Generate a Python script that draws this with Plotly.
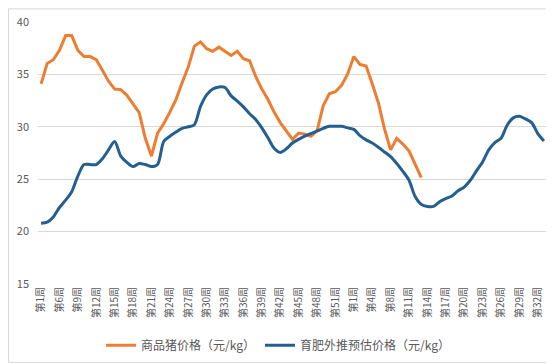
import plotly.graph_objects as go

# Category labels (weeks spanning two years)
weeks = (["第1周", "第4周", "第5周"] + [f"第{w}周" for w in range(6, 54)]
         + ["第1周", "第2周", "第3周", "第4周", "第5周", "第6周"]
         + [f"第{w}周" for w in range(8, 34)])

hog_price = [34.1, 36.05, 36.4, 37.3, 38.7, 38.7, 37.3, 36.7, 36.7, 36.4,
             35.4, 34.35, 33.6, 33.55, 33.0, 32.2, 31.35, 28.9, 27.2, 29.4,
             30.3, 31.4, 32.6, 34.2, 35.7, 37.7, 38.1, 37.45, 37.2, 37.6,
             37.2, 36.8, 37.2, 36.5, 36.3, 34.8, 33.6, 32.6, 31.4, 30.4,
             29.6, 28.8, 29.4, 29.3, 29.1, 29.6, 32.0, 33.15, 33.35, 33.95,
             35.05, 36.7, 35.95, 35.8, 34.1, 32.3, 29.8, 27.8, 28.9, 28.35,
             27.7, 26.45, 25.15]

forecast_price = [20.8, 20.9, 21.4, 22.3, 23.0, 23.8, 25.3, 26.4, 26.4, 26.4,
                  26.95, 27.8, 28.6, 27.2, 26.6, 26.2, 26.5, 26.4, 26.2, 26.4,
                  28.6, 29.1, 29.5, 29.85, 30.0, 30.2, 31.95, 33.05, 33.6, 33.8,
                  33.75, 32.95, 32.45, 31.9, 31.25, 30.7, 29.9, 28.95, 27.95, 27.55,
                  27.9, 28.45, 28.8, 29.1, 29.35, 29.6, 29.85, 30.05, 30.05, 30.05,
                  29.9, 29.75, 29.15, 28.75, 28.45, 28.05, 27.6, 27.15, 26.5, 25.75,
                  24.9, 23.35, 22.6, 22.4, 22.4, 22.85, 23.15, 23.4, 23.9, 24.25,
                  24.9, 25.8, 26.65, 27.8, 28.5, 28.9, 30.15, 30.85, 31.0, 30.75,
                  30.4, 29.35, 28.65]

y_ticks = [15, 20, 25, 30, 35, 40]

x_all = list(range(len(weeks)))
tick_idx = x_all[::3]
tick_txt = [weeks[i] for i in tick_idx]

font_family = "Noto Sans CJK SC, Noto Sans, sans-serif"
grey_text = "#595959"

fig = go.Figure()
fig.add_trace(go.Scatter(
    x=x_all[:len(hog_price)], y=hog_price, mode="lines",
    name="商品猪价格（元/kg）",
    line=dict(color="#ED7D31", width=3)))
fig.add_trace(go.Scatter(
    x=x_all, y=forecast_price, mode="lines",
    name="育肥外推预估价格（元/kg）",
    line=dict(color="#255E91", width=3, shape="spline", smoothing=0.8)))

W, H = 554, 364
ml, mr, mt, mb = 30, 15, 14, 81
pw, ph = W - ml - mr, H - mt - mb

def px_x(p):
    return (p - ml) / pw

def px_y(p):
    return (H - mb - p) / ph

fig.add_shape(type="rect", xref="paper", yref="paper",
              x0=px_x(0.5), x1=px_x(W - 0.5), y0=px_y(H - 0.5), y1=px_y(0.5),
              line=dict(color="#D9D9D9", width=1), fillcolor="rgba(0,0,0,0)",
              layer="below")

fig.update_layout(
    width=W, height=H,
    margin=dict(l=ml, r=mr, t=mt, b=mb, pad=0),
    paper_bgcolor="white", plot_bgcolor="white",
    font=dict(family=font_family, color=grey_text),
    showlegend=True,
    legend=dict(orientation="h", x=px_x(270), xanchor="center",
                y=px_y(346), yanchor="middle",
                font=dict(size=12, color=grey_text),
                itemwidth=30, tracegroupgap=0,
                bgcolor="rgba(0,0,0,0)"),
    xaxis=dict(range=[-0.5, len(weeks) - 0.5], tickmode="array",
               tickvals=tick_idx, ticktext=tick_txt, tickangle=-90,
               tickfont=dict(size=10, color=grey_text),
               showgrid=False, zeroline=False, showline=False,
               ticks="", automargin=False),
    yaxis=dict(range=[15, 40], tickmode="array", tickvals=y_ticks,
               tickfont=dict(size=11, color=grey_text),
               showgrid=True, gridcolor="#D9D9D9", gridwidth=1,
               zeroline=False, showline=False, ticks="",
               ticklabelstandoff=8, automargin=False),
)

fig.write_html("out.html")
